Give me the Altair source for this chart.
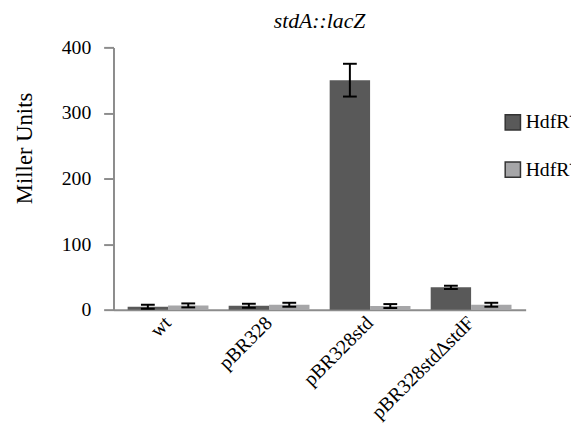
import altair as alt
import pandas as pd

strains = ["wt", "pBR328", "pBR328std", "pBR328stdΔstdF"]
series = ["HdfR⁺", "HdfR⁻"]
hdfr_plus = [4.5, 6.0, 350.0, 34.0]
hdfr_minus = [6.5, 7.5, 5.5, 7.5]
err_plus = [3.0, 3.0, 25.0, 2.5]
err_minus = [3.0, 3.0, 3.0, 3.0]

rows = []
for i, s in enumerate(strains):
    rows.append({"strain": s, "series": series[0], "value": hdfr_plus[i], "err": err_plus[i]})
    rows.append({"strain": s, "series": series[1], "value": hdfr_minus[i], "err": err_minus[i]})
df = pd.DataFrame(rows)
df["lo"] = df["value"] - df["err"]
df["hi"] = df["value"] + df["err"]

FONT = "Liberation Serif"
AX = "#8c8c8c"

x_enc = alt.X("strain:N", sort=strains,
              scale=alt.Scale(paddingInner=0.2, paddingOuter=0.14),
              axis=alt.Axis(title=None, labelAngle=-45, labelAlign="right", labelBaseline="middle",
                            labelFont=FONT, labelFontSize=20, labelColor="#000", ticks=False,
                            domainColor=AX, domainWidth=2, labelPadding=10))
xo = alt.XOffset("series:N", sort=series, scale=alt.Scale(paddingInner=0, paddingOuter=0))

bars = alt.Chart(df).mark_bar().encode(
    x=x_enc,
    xOffset=xo,
    y=alt.Y("value:Q", scale=alt.Scale(domain=[0, 400]),
            axis=alt.Axis(title="Miller Units", values=[0, 100, 200, 300, 400], grid=False,
                          titleFont=FONT, titleFontSize=23, titleFontWeight="normal",
                          titleColor="#000", titleX=-90, titleY=102, titleAngle=-90,
                          titleAlign="center", titleBaseline="middle",
                          labelFont=FONT, labelFontSize=20, labelColor="#000",
                          domainColor=AX, domainWidth=2, tickColor=AX, tickWidth=2,
                          tickSize=10, labelPadding=13)),
    color=alt.Color("series:N", sort=series,
                    scale=alt.Scale(domain=series, range=["#595959", "#a6a6a8"]),
                    legend=alt.Legend(title=None, orient="none", legendX=395, legendY=66,
                                      symbolType="square", symbolSize=240,
                                      symbolStrokeColor="#333333", symbolStrokeWidth=1.5,
                                      labelFont=FONT, labelFontSize=20, labelColor="#000",
                                      rowPadding=26, labelOffset=3)),
)

rule = alt.Chart(df).mark_rule(color="black", strokeWidth=2).encode(
    x=alt.X("strain:N", sort=strains), xOffset=xo,
    y="lo:Q", y2="hi:Q")
cap_lo = alt.Chart(df).mark_tick(color="black", thickness=2, size=14, opacity=1).encode(
    x=alt.X("strain:N", sort=strains), xOffset=xo, y="lo:Q")
cap_hi = alt.Chart(df).mark_tick(color="black", thickness=2, size=14, opacity=1).encode(
    x=alt.X("strain:N", sort=strains), xOffset=xo, y="hi:Q")

chart = alt.layer(bars, rule, cap_lo, cap_hi).properties(
    width=418, height=266,
    title=alt.TitleParams("stdA::lacZ", font=FONT, fontSize=22, fontStyle="italic",
                          fontWeight="normal", color="#000", anchor="middle",
                          frame="group", offset=5),
    padding={"left": 107, "top": 37, "right": 46, "bottom": 112},
    autosize=alt.AutoSizeParams(type="none"),
).configure_view(stroke=None)

chart.save("out.html", embed_options={"renderer": "svg", "actions": False})
